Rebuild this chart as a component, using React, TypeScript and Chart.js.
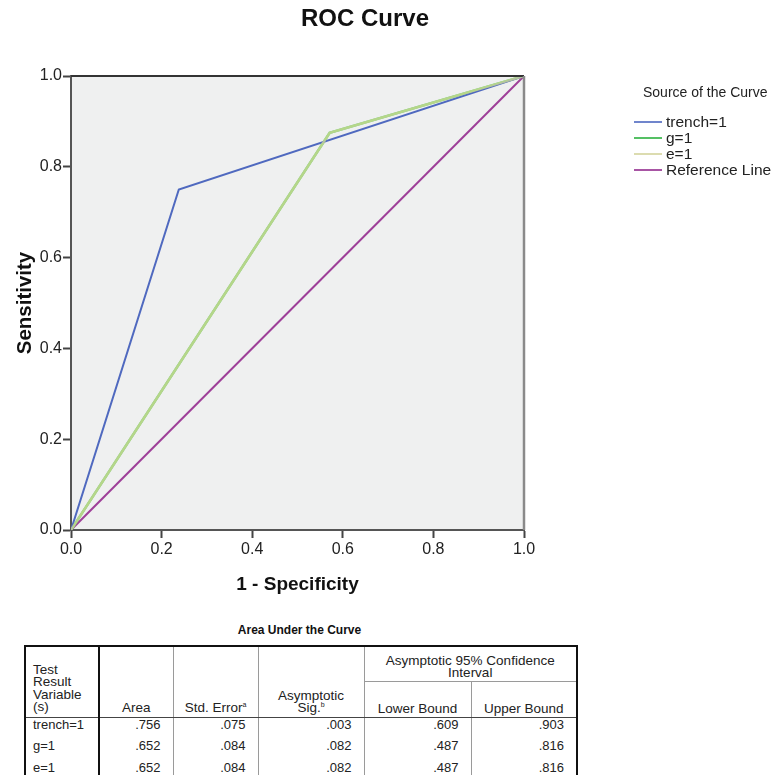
import React, { useEffect, useRef } from "react";
import { Chart, registerables } from "chart.js";

Chart.register(...registerables);

// ---- data ----
const chartTitle = "ROC Curve";
const xAxisTitle = "1 - Specificity";
const yAxisTitle = "Sensitivity";
const legendTitle = "Source of the Curve";

const seriesLabels = ["trench=1", "g=1", "e=1", "Reference Line"];
const trenchFpr = [0, 0.238, 1];
const trenchTpr = [0, 0.75, 1];
const gFpr = [0, 0.571, 1];
const gTpr = [0, 0.875, 1];
const eFpr = [0, 0.571, 1];
const eTpr = [0, 0.875, 1];
const refFpr = [0, 1];
const refTpr = [0, 1];

const tableCaption = "Area Under the Curve";
const tableVariables = ["trench=1", "g=1", "e=1"];
const tableArea = [".756", ".652", ".652"];
const tableStdError = [".075", ".084", ".084"];
const tableSig = [".003", ".082", ".082"];
const tableLower = [".609", ".487", ".487"];
const tableUpper = [".903", ".816", ".816"];

const FONT = '"Liberation Sans", Arial, Helvetica, sans-serif';

const toPoints = (xs: number[], ys: number[]) => xs.map((x, i) => ({ x, y: ys[i] }));

const decorPlugin = {
  id: "decor",
  beforeDraw(chart: any) {
    const { ctx, chartArea: a } = chart;
    ctx.save();
    ctx.fillStyle = "#eff0f0";
    ctx.fillRect(a.left, a.top, a.right - a.left, a.bottom - a.top);
    ctx.restore();
  },
  afterDatasetsDraw(chart: any) {
    const { ctx, chartArea: a } = chart;
    ctx.save();
    ctx.strokeStyle = "#333";
    ctx.lineWidth = 2;
    ctx.beginPath();
    ctx.moveTo(a.left, a.top);
    ctx.lineTo(a.right, a.top);
    ctx.stroke();
    ctx.strokeStyle = "#8a8a8a";
    ctx.lineWidth = 2.5;
    ctx.beginPath();
    ctx.moveTo(a.right, a.top);
    ctx.lineTo(a.right, a.bottom);
    ctx.stroke();
    ctx.restore();
  },
  afterDraw(chart: any) {
    const { ctx } = chart;
    ctx.save();
    ctx.textBaseline = "middle";
    // chart title
    ctx.textAlign = "center";
    ctx.fillStyle = "#111";
    ctx.font = `bold 24px ${FONT}`;
    ctx.fillText(chartTitle, 365, 19);
    // legend
    ctx.textAlign = "left";
    ctx.fillStyle = "#222";
    ctx.font = `14px ${FONT}`;
    ctx.fillText(legendTitle, 643, 93);
    chart.data.datasets.forEach((ds: any, i: number) => {
      const y = 122 + 16 * i;
      ctx.strokeStyle = ds.legendColor || ds.borderColor;
      ctx.lineWidth = 2;
      ctx.beginPath();
      ctx.moveTo(634, y);
      ctx.lineTo(662, y);
      ctx.stroke();
      ctx.fillStyle = "#222";
      ctx.font = `15.5px ${FONT}`;
      ctx.fillText(ds.label, 666, y + 1);
    });
    ctx.restore();
  },
};

function RocChart() {
  const ref = useRef<HTMLCanvasElement | null>(null);
  useEffect(() => {
    if (!ref.current) return;
    Chart.defaults.font.family = FONT;
    const chart = new Chart(ref.current, {
      type: "line",
      data: {
        datasets: [
          {
            label: seriesLabels[0],
            data: toPoints(trenchFpr, trenchTpr),
            borderColor: "#4f69bf",
            legendColor: "#7085cc",
            borderWidth: 2,
            pointRadius: 0,
            order: 1,
          },
          {
            label: seriesLabels[1],
            data: toPoints(gFpr, gTpr),
            borderColor: "#55c064",
            borderWidth: 2.5,
            pointRadius: 0,
            order: 2,
          },
          {
            label: seriesLabels[2],
            data: toPoints(eFpr, eTpr),
            borderColor: "rgba(214,222,150,0.75)",
            legendColor: "#dcdcb0",
            borderWidth: 2.5,
            pointRadius: 0,
            order: 0,
          },
          {
            label: seriesLabels[3],
            data: toPoints(refFpr, refTpr),
            borderColor: "#9e3f98",
            legendColor: "#a855a4",
            borderWidth: 2,
            pointRadius: 0,
            order: 3,
          },
        ] as any,
      },
      options: {
        responsive: false,
        animation: false,
        devicePixelRatio: 1,
        layout: { padding: { left: 0, right: 252, top: 76, bottom: 0 } },
        plugins: {
          legend: { display: false },
          tooltip: { enabled: false },
          title: { display: false },
        },
        scales: {
          x: {
            type: "linear",
            min: 0,
            max: 1,
            afterFit: (s: any) => {
              s.height = 80;
            },
            ticks: {
              stepSize: 0.2,
              color: "#222",
              font: { size: 16 },
              padding: 2,
              callback: (v: any) => Number(v).toFixed(1),
            },
            grid: { drawOnChartArea: false, tickLength: 8, tickColor: "#444", tickWidth: 2 },
            border: { color: "#555", width: 2 },
            title: {
              display: true,
              text: xAxisTitle,
              color: "#111",
              font: { size: 19, weight: "bold" },
              padding: { top: 0, bottom: 14 },
            },
          },
          y: {
            type: "linear",
            min: 0,
            max: 1,
            afterFit: (s: any) => {
              s.width = 71;
            },
            ticks: {
              stepSize: 0.2,
              color: "#222",
              font: { size: 16 },
              padding: 1,
              callback: (v: any) => Number(v).toFixed(1),
            },
            grid: { drawOnChartArea: false, tickLength: 8, tickColor: "#444", tickWidth: 2 },
            border: { color: "#555", width: 2 },
            title: {
              display: true,
              text: yAxisTitle,
              color: "#111",
              font: { size: 20.5, weight: "bold" },
              padding: { top: 13, bottom: 0 },
            },
          },
        },
      },
      plugins: [decorPlugin],
    } as any);
    return () => chart.destroy();
  }, []);
  return (
    <canvas
      ref={ref}
      width={776}
      height={610}
      style={{ position: "absolute", left: 0, top: 0, width: 776, height: 610 }}
    />
  );
}

const thin = "1px solid #9a9a9a";
const thick = "2px solid #111";

function AucTable() {
  const base: React.CSSProperties = {
    padding: 0,
    fontSize: 13,
    lineHeight: "12px",
    color: "#222",
    boxSizing: "border-box",
  };
  const headCell = (extra: React.CSSProperties): React.CSSProperties => ({
    ...base,
    fontSize: 13.5,
    verticalAlign: "bottom",
    textAlign: "center",
    borderLeft: thin,
    ...extra,
  });
  const dataCell = (extra: React.CSSProperties): React.CSSProperties => ({
    ...base,
    height: 22,
    textAlign: "right",
    paddingRight: 12,
    paddingTop: 0,
    lineHeight: "14px",
    borderLeft: thin,
    verticalAlign: "top",
    ...extra,
  });
  const sup: React.CSSProperties = { fontSize: 7, lineHeight: 0 };
  return (
    <>
      <div
        style={{
          position: "absolute",
          left: 24,
          top: 623,
          width: 551,
          textAlign: "center",
          font: `bold 12px ${FONT}`,
          color: "#111",
        }}
      >
        {tableCaption}
      </div>
      <table
        style={{
          position: "absolute",
          left: 24,
          top: 645,
          width: 552,
          borderCollapse: "collapse",
          tableLayout: "fixed",
          border: thick,
          fontFamily: FONT,
        }}
      >
        <colgroup>
          <col style={{ width: 74 }} />
          <col style={{ width: 74 }} />
          <col style={{ width: 85 }} />
          <col style={{ width: 106 }} />
          <col style={{ width: 107 }} />
          <col style={{ width: 106 }} />
        </colgroup>
        <tbody>
          <tr style={{ height: 35 }}>
            <td
              rowSpan={2}
              style={{
                ...base,
                verticalAlign: "bottom",
                textAlign: "left",
                paddingLeft: 7,
                paddingBottom: 3,
                fontSize: 13.5,
                lineHeight: "12.5px",
                borderRight: thick,
                borderBottom: "1px solid #444",
              }}
            >
              Test
              <br />
              Result
              <br />
              Variable
              <br />
              (s)
            </td>
            <td rowSpan={2} style={headCell({ paddingBottom: 3, borderLeft: thick, borderBottom: "1px solid #444" })}>
              Area
            </td>
            <td rowSpan={2} style={headCell({ paddingBottom: 3, borderBottom: "1px solid #444" })}>
              Std. Error<sup style={sup}>a</sup>
            </td>
            <td rowSpan={2} style={headCell({ paddingBottom: 3, borderBottom: "1px solid #444" })}>
              Asymptotic
              <br />
              Sig.<sup style={sup}>b</sup>
            </td>
            <td colSpan={2} style={headCell({ paddingBottom: 2, borderBottom: thin })}>
              Asymptotic 95% Confidence
              <br />
              Interval
            </td>
          </tr>
          <tr style={{ height: 36 }}>
            <td style={headCell({ paddingBottom: 2, borderBottom: "1px solid #444" })}>Lower Bound</td>
            <td style={headCell({ paddingBottom: 2, borderBottom: "1px solid #444" })}>Upper Bound</td>
          </tr>
          {tableVariables.map((v, i) => (
            <tr key={v}>
              <td
                style={{
                  ...base,
                  height: 22,
                  textAlign: "left",
                  paddingLeft: 7,
                  paddingTop: 0,
                  lineHeight: "14px",
                  verticalAlign: "top",
                  borderRight: thick,
                }}
              >
                {v}
              </td>
              <td style={dataCell({ borderLeft: thick })}>{tableArea[i]}</td>
              <td style={dataCell({})}>{tableStdError[i]}</td>
              <td style={dataCell({})}>{tableSig[i]}</td>
              <td style={dataCell({})}>{tableLower[i]}</td>
              <td style={dataCell({})}>{tableUpper[i]}</td>
            </tr>
          ))}
        </tbody>
      </table>
    </>
  );
}

export default function App() {
  return (
    <div
      style={{
        position: "absolute",
        left: 0,
        top: 0,
        width: 776,
        height: 775,
        overflow: "hidden",
        background: "#fff",
        fontFamily: FONT,
      }}
    >
      <RocChart />
      <AucTable />
    </div>
  );
}
